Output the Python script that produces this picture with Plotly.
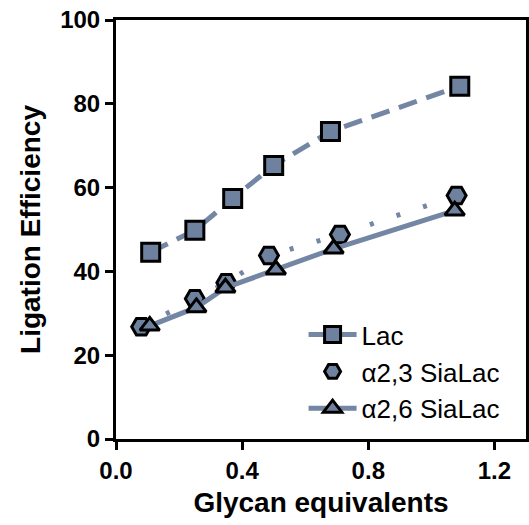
import plotly.graph_objects as go

# Data
lac_x = [0.11, 0.25, 0.37, 0.50, 0.68, 1.09]
lac_y = [44.6, 49.8, 57.4, 65.3, 73.4, 84.2]

sia23_x = [0.08, 0.25, 0.35, 0.485, 0.71, 1.08]
sia23_y = [26.8, 33.5, 37.3, 43.8, 48.8, 58.1]

sia26_x = [0.107, 0.255, 0.347, 0.507, 0.69, 1.074]
sia26_y = [27.0, 31.4, 36.1, 40.4, 45.4, 54.5]

names = ["Lac", "α2,3 SiaLac", "α2,6 SiaLac"]
x_ticks = [0.0, 0.4, 0.8, 1.2]
x_tick_text = ["0.0", "0.4", "0.8", "1.2"]
y_ticks = [0, 20, 40, 60, 80, 100]

fill = "#6E819F"
linec = "#7386A3"
FONT = "Liberation Sans"

lac_marker = dict(symbol="square", size=18, color=fill, line=dict(color="black", width=3))
hex_marker = dict(symbol="hexagon2", size=19, color=fill, line=dict(color="black", width=3))
tri_marker = dict(symbol="triangle-up", size=17, color=fill, line=dict(color="black", width=3))

fig = go.Figure()
fig.add_trace(go.Scatter(
    x=lac_x, y=lac_y, name=names[0], mode="lines+markers", legendgroup="a",
    line=dict(color=linec, width=5, dash="19px,10px"), marker=lac_marker,
))
fig.add_trace(go.Scatter(
    x=sia23_x, y=sia23_y, name=names[1], mode="lines+markers", legendgroup="b",
    line=dict(color=linec, width=5, dash="4px,24px"), marker=hex_marker,
    showlegend=False,
))
# legend entry for the hexagon series shows only its marker (as in the reference)
fig.add_trace(go.Scatter(
    x=[None], y=[None], name=names[1], mode="markers", legendgroup="b",
    marker=hex_marker,
))
fig.add_trace(go.Scatter(
    x=sia26_x, y=sia26_y, name=names[2], mode="lines+markers", legendgroup="c",
    line=dict(color=linec, width=5), marker=tri_marker,
))

fig.update_layout(
    width=529, height=525,
    margin=dict(l=116, r=0, t=20, b=86),
    paper_bgcolor="white", plot_bgcolor="white",
    font=dict(family=FONT, color="black"),
    showlegend=True,
    legend=dict(
        x=0.4575, y=0.305, xanchor="left", yanchor="top",
        font=dict(size=26, family=FONT, color="black"),
        bgcolor="rgba(0,0,0,0)", tracegroupgap=0, itemwidth=48,
    ),
    xaxis=dict(
        range=[0, 1.3], tickvals=x_ticks, ticktext=x_tick_text,
        showgrid=False, zeroline=False,
        showline=True, linecolor="black", linewidth=3, mirror=True,
        ticks="outside", ticklen=8, tickwidth=3, tickcolor="black",
        tickfont=dict(size=24, family=FONT, weight="bold"),
        title=dict(text="Glycan equivalents", standoff=10,
                   font=dict(size=28, family=FONT, weight="bold")),
    ),
    yaxis=dict(
        range=[0, 100], tickvals=y_ticks,
        showgrid=False, zeroline=False,
        showline=True, linecolor="black", linewidth=3, mirror=True,
        ticks="outside", ticklen=8, tickwidth=3, tickcolor="black",
        tickfont=dict(size=24, family=FONT, weight="bold"),
        title=dict(text="Ligation Efficiency", standoff=12,
                   font=dict(size=28, family=FONT, weight="bold")),
    ),
)

fig.write_html("out.html")
